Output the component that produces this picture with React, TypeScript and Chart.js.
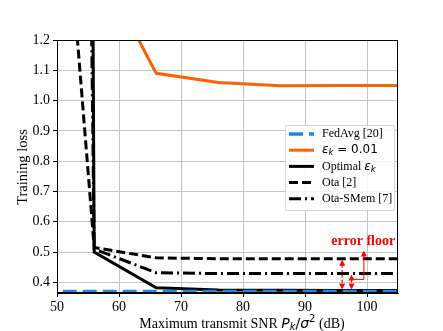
import React, { useEffect, useRef } from "react";
import { Chart, registerables } from "chart.js";

Chart.register(...registerables);

const snr = [46, 56, 66, 76, 86, 96, 106];
const fedAvg = [0.37, 0.37, 0.37, 0.37, 0.37, 0.37, 0.37];
const eps001 = [1.9, 1.48, 1.09, 1.06, 1.049, 1.05, 1.05];
const optimal = [40, 0.5, 0.382, 0.375, 0.374, 0.373, 0.373];
const ota = [3.05, 0.515, 0.481, 0.478, 0.478, 0.478, 0.478];
const otaSMem = [17.7, 0.51, 0.432, 0.429, 0.429, 0.429, 0.429];
const xTicks = [50, 60, 70, 80, 90, 100];
const yTicks = [0.4, 0.5, 0.6, 0.7, 0.8, 0.9, 1.0, 1.1, 1.2];

const SERIF = "'Times New Roman', 'Liberation Serif', serif";
const MATH = "'DejaVu Sans', sans-serif";

type Run = { t: string; font: string; dy?: number };

function drawRuns(ctx: CanvasRenderingContext2D, runs: Run[], x: number, y: number, align: "left" | "center" = "left") {
  let total = 0;
  for (const r of runs) {
    ctx.font = r.font;
    total += ctx.measureText(r.t).width;
  }
  let cx = align === "center" ? x - total / 2 : x;
  ctx.textBaseline = "middle";
  ctx.textAlign = "left";
  for (const r of runs) {
    ctx.font = r.font;
    ctx.fillText(r.t, cx, y + (r.dy || 0));
    cx += ctx.measureText(r.t).width;
  }
}

const legendItems: Run[][] = [
  [{ t: "FedAvg [20]", font: `12px ${SERIF}` }],
  [
    { t: "ε", font: `italic 12px ${MATH}` },
    { t: "k", font: `italic 8.5px ${MATH}`, dy: 3 },
    { t: " = 0.01", font: `12px ${MATH}` },
  ],
  [
    { t: "Optimal ", font: `12px ${SERIF}` },
    { t: "ε", font: `italic 12px ${MATH}` },
    { t: "k", font: `italic 8.5px ${MATH}`, dy: 3 },
  ],
  [{ t: "Ota [2]", font: `12px ${SERIF}` }],
  [{ t: "Ota-SMem [7]", font: `12px ${SERIF}` }],
];

function arrowHead(ctx: CanvasRenderingContext2D, x: number, y: number, dir: number) {
  ctx.beginPath();
  ctx.moveTo(x, y);
  ctx.lineTo(x - 3, y - dir * 6);
  ctx.lineTo(x + 3, y - dir * 6);
  ctx.closePath();
  ctx.fill();
}

const overlayPlugin = {
  id: "overlay",
  afterDatasetsDraw(chart: any) {
    const { ctx, chartArea: a, scales } = chart;
    const xs = scales.x;
    const ys = scales.y;
    ctx.save();
    ctx.strokeStyle = "#000";
    ctx.lineWidth = 1;
    ctx.setLineDash([]);
    ctx.strokeRect(a.left + 0.5, a.top + 0.5, a.right - a.left - 1, a.bottom - a.top - 1);

    // error floor annotation
    ctx.strokeStyle = "#ff0000";
    ctx.fillStyle = "#ff0000";
    const ax1 = xs.getPixelForValue(96);
    const ax2 = xs.getPixelForValue(97.5);
    const ax3 = xs.getPixelForValue(99.5);
    const yOpt = ys.getPixelForValue(optimal[6]) - 1;
    const yOta = ys.getPixelForValue(ota[6]) + 1;
    const ySm = ys.getPixelForValue(otaSMem[6]) + 1;
    ctx.lineWidth = 1.2;
    ctx.setLineDash([3, 2]);
    ctx.beginPath();
    ctx.moveTo(ax1, yOta + 5);
    ctx.lineTo(ax1, yOpt - 5);
    ctx.moveTo(ax2, ySm + 5);
    ctx.lineTo(ax2, yOpt - 5);
    ctx.stroke();
    ctx.setLineDash([]);
    arrowHead(ctx, ax1, yOta, -1);
    arrowHead(ctx, ax1, yOpt, 1);
    arrowHead(ctx, ax2, ySm, -1);
    arrowHead(ctx, ax2, yOpt, 1);
    const yc = ys.getPixelForValue(0.41);
    const yTip = ys.getPixelForValue(0.505);
    ctx.lineWidth = 1;
    ctx.beginPath();
    ctx.moveTo(ax2, yc);
    ctx.lineTo(ax3, yc);
    ctx.lineTo(ax3, yTip + 4);
    ctx.stroke();
    arrowHead(ctx, ax3, yTip, -1);
    drawRuns(ctx, [{ t: "error floor", font: `bold 14px ${SERIF}` }], xs.getPixelForValue(99.4), ys.getPixelForValue(0.535), "center");

    // legend
    const lx = a.right - 113;
    const ly = a.top + 85;
    const lw = 109;
    const lh = 85;
    ctx.fillStyle = "rgba(255,255,255,0.85)";
    ctx.strokeStyle = "#d8d8d8";
    ctx.lineWidth = 1;
    ctx.beginPath();
    (ctx as any).roundRect(lx + 0.5, ly + 0.5, lw, lh, 2);
    ctx.fill();
    ctx.stroke();
    chart.data.datasets.forEach((ds: any, i: number) => {
      const y = ly + 9 + i * 16.2;
      ctx.strokeStyle = ds.borderColor;
      ctx.lineWidth = ds.borderWidth;
      ctx.setLineDash(ds.borderDash || []);
      ctx.lineDashOffset = 0;
      ctx.beginPath();
      ctx.moveTo(lx + 4, y);
      ctx.lineTo(lx + 29, y);
      ctx.stroke();
      ctx.setLineDash([]);
      ctx.fillStyle = "#000";
      drawRuns(ctx, legendItems[i], lx + 37, y);
    });

    // axis titles
    ctx.fillStyle = "#000";
    drawRuns(
      ctx,
      [
        { t: "Maximum transmit SNR ", font: `14px ${SERIF}` },
        { t: "P", font: `italic 14px ${MATH}` },
        { t: "k", font: `italic 10px ${MATH}`, dy: 3 },
        { t: "/", font: `14px ${MATH}` },
        { t: "σ", font: `italic 14px ${MATH}` },
        { t: "2", font: `10px ${MATH}`, dy: -5 },
        { t: " (dB)", font: `14px ${SERIF}` },
      ],
      242,
      324,
      "center"
    );
    ctx.save();
    ctx.translate(23, 167);
    ctx.rotate(-Math.PI / 2);
    drawRuns(ctx, [{ t: "Training loss", font: `14.5px ${SERIF}` }], 0, 0, "center");
    ctx.restore();
    ctx.restore();
  },
};

export default function App() {
  const ref = useRef<HTMLCanvasElement>(null);
  useEffect(() => {
    document.body.style.margin = "0";
    const mk = (label: string, data: number[], color: string, width: number, dash: number[] = [], offset = 0) => ({
      label,
      data: snr.map((x, i) => ({ x, y: data[i] })),
      borderColor: color,
      backgroundColor: color,
      borderWidth: width,
      borderDash: dash,
      borderDashOffset: offset,
      pointRadius: 0,
      tension: 0,
      fill: false,
    });
    const chart = new Chart(ref.current!, {
      type: "line",
      data: {
        datasets: [
          mk("FedAvg [20]", fedAvg, "#1e88e5", 3.5, [14, 6], 9.5),
          mk("ε_k = 0.01", eps001, "#fe6100", 3),
          mk("Optimal ε_k", optimal, "#000000", 3),
          mk("Ota [2]", ota, "#000000", 3, [9, 4]),
          mk("Ota-SMem [7]", otaSMem, "#000000", 3, [12, 4, 2, 4]),
        ],
      },
      options: {
        animation: false,
        responsive: false,
        maintainAspectRatio: false,
        layout: { padding: { left: 0, top: 40, right: 45, bottom: 0 } },
        plugins: { legend: { display: false }, tooltip: { enabled: false } },
        scales: {
          x: {
            type: "linear",
            min: 50,
            max: 105,
            afterBuildTicks: (s: any) => {
              s.ticks = xTicks.map((v) => ({ value: v }));
            },
            afterFit: (s: any) => {
              s.height = 38;
            },
            grid: { color: "#c4c4c4", lineWidth: 1, tickColor: "#000", tickLength: 4 },
            border: { color: "#000" },
            ticks: { color: "#000", font: { family: SERIF, size: 14 }, padding: 2, maxRotation: 0 },
          },
          y: {
            type: "linear",
            min: 0.365,
            max: 1.2,
            afterBuildTicks: (s: any) => {
              s.ticks = yTicks.map((v) => ({ value: v }));
            },
            afterFit: (s: any) => {
              s.width = 57;
            },
            grid: { color: "#c4c4c4", lineWidth: 1, tickColor: "#000", tickLength: 4 },
            border: { color: "#000" },
            ticks: {
              color: "#000",
              font: { family: SERIF, size: 14 },
              padding: 3,
              callback: (v: any) => Number(v).toFixed(1),
            },
          },
        },
      },
      plugins: [overlayPlugin],
    } as any);
    return () => chart.destroy();
  }, []);
  return (
    <div style={{ width: 443, height: 331 }}>
      <canvas ref={ref} width={443} height={331} style={{ display: "block" }} />
    </div>
  );
}
